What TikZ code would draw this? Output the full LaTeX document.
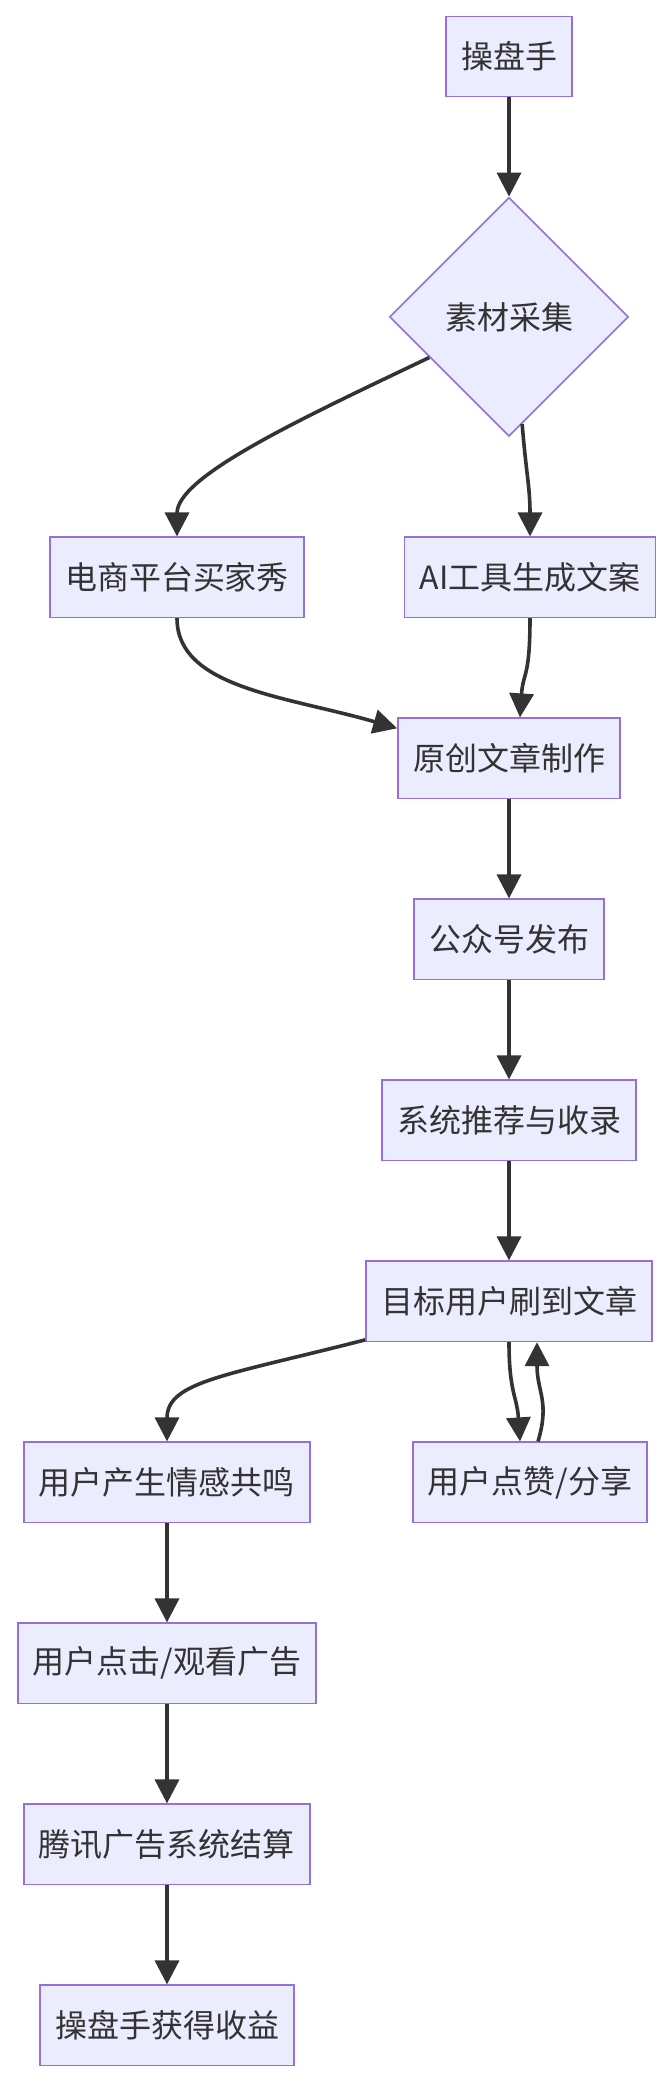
\documentclass[tikz,border=0pt]{standalone}
\usepackage{fontspec}
\setmainfont{Noto Sans CJK SC}
\usepackage{tikz}
\usetikzlibrary{arrows.meta,positioning,shapes.geometric}
\definecolor{nodefill}{HTML}{ECECFF}
\definecolor{nodeline}{HTML}{9370DB}
\definecolor{edgeline}{HTML}{333333}

\begin{document}
\begin{tikzpicture}[
    x=0.5pt, y=-0.5pt,
    font=\fontsize{16pt}{19pt}\selectfont,
    node distance=49.6pt,
    box/.style={
        draw=nodeline,
        fill=nodefill,
        text=edgeline,
        line width=0.8pt,
        align=center,
        minimum height=40.1pt,
        inner xsep=7.5pt,
        inner ysep=4pt
    },
    choice/.style={
        diamond,
        aspect=1,
        draw=nodeline,
        fill=nodefill,
        text=edgeline,
        line width=0.8pt,
        minimum size=119.5pt,
        inner sep=2pt
    },
    arrow/.style={-{Triangle[length=12pt,width=12pt]}, line width=1.8pt, draw=edgeline}
]
\useasboundingbox (0,0) rectangle (672,2084);

% Main column
\node[box] (op) at (509,56.5) {操盘手};

\node[choice, below=of op] (mat) {素材采集};

\node[box, below=of mat, xshift=-166pt] (buy) {电商平台买家秀};

\node[box, below=of mat, xshift=10.5pt] (ai) {AI工具生成文案};

\node[box, below=of ai, xshift=-10.5pt] (art) {原创文章制作};

\node[box, below=of art] (pub) {公众号发布};

\node[box, below=of pub] (sys) {系统推荐与收录};

\node[box, below=of sys] (tgt) {目标用户刷到文章};

% Branches under the target users
\node[box, below=of tgt, xshift=-171pt] (res) {用户产生情感共鸣};

\node[box, below=of tgt, xshift=10.5pt] (shr) {用户点赞/分享};

\node[box, below=of res] (clk) {用户点击/观看广告};

\node[box, below=of clk] (ads) {腾讯广告系统结算};

\node[box, below=of ads] (inc) {操盘手获得收益};

% Arrows
\draw[arrow] (op) -- (mat);
\draw[arrow] (mat.207) .. controls +(-130,62) and +(0,-60) .. (buy.north);
\draw[arrow] (mat.277) .. controls +(4,50) and +(0,-50) .. (ai.north);
\draw[arrow] (buy.south) .. controls +(0,70) and +(-110,-32) .. (art.165);
\draw[arrow] (ai.south) .. controls +(0,60) and +(3,-45) .. (art.75);
\draw[arrow] (art) -- (pub);
\draw[arrow] (pub) -- (sys);
\draw[arrow] (sys) -- (tgt);
\draw[arrow] (tgt.195) .. controls +(-140,36) and +(0,-60) .. (res.north);
\draw[arrow] (tgt.south) .. controls +(0,50) and +(-3,-45) .. ([xshift=-5pt]shr.north);
\draw[arrow] ([xshift=4pt]shr.north) .. controls +(12,-40) and +(0,50) .. ([xshift=14pt]tgt.south);
\draw[arrow] (res) -- (clk);
\draw[arrow] (clk) -- (ads);
\draw[arrow] (ads) -- (inc);

\end{tikzpicture}
\end{document}
